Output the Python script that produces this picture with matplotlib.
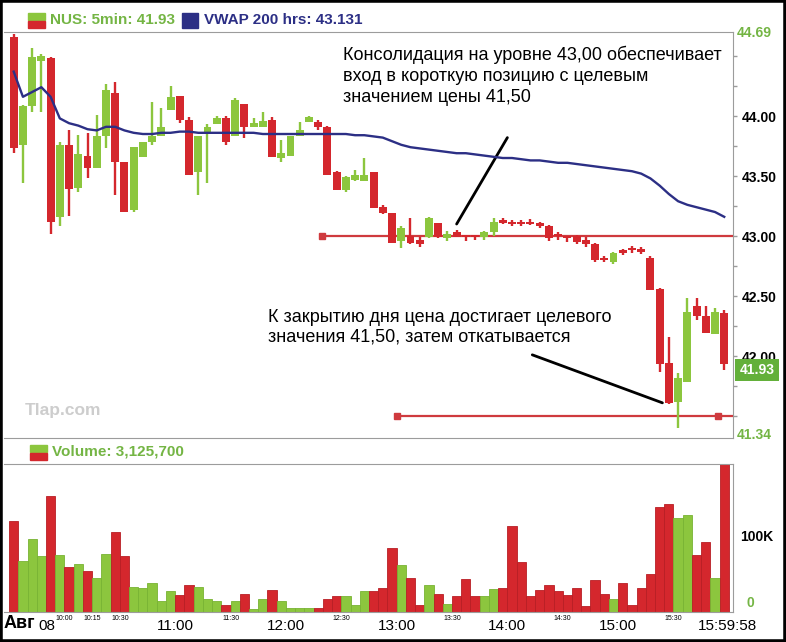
import matplotlib

matplotlib.use("Agg")

import numpy as np  # noqa: E402
from matplotlib import font_manager  # noqa: E402
from matplotlib import pyplot as plt  # noqa: E402
from matplotlib.patches import Rectangle  # noqa: E402
from matplotlib.transforms import blended_transform_factory  # noqa: E402

# 5-minute candles, 9:30 .. 15:55
OPEN = [44.66, 43.76, 44.08, 44.46, 44.48, 43.16, 43.76, 43.40, 43.67, 43.57,
        43.83, 44.19, 43.62, 43.22, 43.66, 43.78, 43.83, 44.05, 44.17, 43.97,
        43.53, 43.86, 43.93, 43.98, 43.83, 44.10, 43.91, 43.91, 43.97, 43.65,
        43.67, 43.83, 43.95, 43.95, 43.91, 43.53, 43.38, 43.47, 43.46, 43.53,
        43.24, 43.19, 42.96, 43.00, 42.97, 42.99, 43.11, 42.98, 43.03, 43.00,
        43.00, 42.99, 43.03, 43.13, 43.11, 43.11, 43.12, 43.11, 43.08, 43.02,
        42.99, 43.00, 42.97, 42.93, 42.81, 42.78, 42.87, 42.89, 42.88, 42.82,
        42.56, 41.94, 41.62, 41.78, 42.42, 42.33, 42.18, 42.36]
HIGH = [44.68, 44.09, 44.57, 44.52, 44.49, 43.78, 43.88, 43.84, 43.86, 44.01,
        44.27, 44.28, 43.62, 43.74, 43.78, 44.12, 44.07, 44.25, 44.17, 43.99,
        43.83, 43.93, 44.00, 44.00, 44.15, 44.10, 43.98, 44.03, 43.99, 43.80,
        43.83, 43.95, 44.00, 43.97, 43.92, 43.54, 43.50, 43.55, 43.65, 43.53,
        43.26, 43.19, 43.08, 43.15, 42.99, 43.16, 43.11, 43.04, 43.05, 43.01,
        43.01, 43.04, 43.15, 43.15, 43.13, 43.13, 43.14, 43.12, 43.09, 43.03,
        43.00, 43.01, 42.99, 42.94, 42.83, 42.87, 42.89, 42.92, 42.91, 42.83,
        42.57, 42.16, 41.86, 42.48, 42.48, 42.42, 42.40, 42.38]
LOW = [43.69, 43.44, 44.03, 44.03, 43.02, 43.08, 43.17, 43.37, 43.48, 43.57,
       43.73, 43.34, 43.20, 43.20, 43.66, 43.76, 43.83, 44.05, 43.94, 43.51,
       43.34, 43.44, 43.93, 43.76, 43.83, 43.82, 43.91, 43.91, 43.66, 43.62,
       43.67, 43.83, 43.95, 43.88, 43.51, 43.38, 43.37, 43.46, 43.46, 43.23,
       43.18, 42.94, 42.90, 42.93, 42.91, 42.98, 42.98, 42.96, 42.99, 42.96,
       42.97, 42.97, 43.00, 43.10, 43.08, 43.08, 43.09, 43.07, 42.96, 42.97,
       42.95, 42.93, 42.91, 42.78, 42.78, 42.77, 42.84, 42.86, 42.85, 42.55,
       41.87, 41.60, 41.40, 41.78, 42.30, 42.19, 42.18, 41.88]
CLOSE = [43.73, 44.08, 44.49, 44.50, 43.12, 43.76, 43.39, 43.68, 43.57, 43.83,
         44.22, 43.62, 43.20, 43.74, 43.78, 43.83, 43.91, 44.16, 43.97, 43.51,
         43.83, 43.91, 43.98, 43.78, 44.13, 43.91, 43.94, 43.96, 43.66, 43.69,
         43.83, 43.88, 43.99, 43.91, 43.51, 43.38, 43.49, 43.51, 43.51, 43.23,
         43.19, 42.94, 43.07, 42.94, 42.93, 43.15, 42.99, 43.02, 42.99, 42.99,
         42.99, 43.03, 43.12, 43.11, 43.10, 43.10, 43.10, 43.08, 42.98, 43.00,
         42.98, 42.95, 42.93, 42.80, 42.80, 42.86, 42.86, 42.88, 42.87, 42.55,
         41.93, 41.61, 41.82, 42.37, 42.33, 42.19, 42.37, 41.93]
VOLUME_K = [123, 69, 98, 76, 157, 77, 61, 65, 55, 46,
            79, 108, 76, 34, 32, 39, 15, 29, 23, 36,
            34, 18, 15, 10, 15, 25, 4, 18, 30, 15,
            5, 5, 5, 5, 17, 22, 21, 10, 28, 29,
            33, 87, 63, 46, 10, 36, 25, 11, 22, 44,
            22, 22, 31, 33, 116, 67, 21, 30, 37, 28,
            23, 32, 8, 43, 25, 18, 39, 10, 33, 51,
            142, 146, 127, 131, 77, 94, 46, 210]
VWAP = [44.37, 44.16, 44.20, 44.24, 44.16, 43.98, 43.94, 43.92, 43.89, 43.88,
        43.91, 43.91, 43.88, 43.86, 43.85, 43.85, 43.86, 43.86, 43.87, 43.87,
        43.86, 43.86, 43.86, 43.86, 43.86, 43.86, 43.86, 43.85, 43.85, 43.85,
        43.85, 43.85, 43.85, 43.85, 43.85, 43.85, 43.85, 43.84, 43.84, 43.83,
        43.82, 43.79, 43.76, 43.74, 43.73, 43.72, 43.71, 43.70, 43.69, 43.69,
        43.68, 43.67, 43.66, 43.65, 43.65, 43.64, 43.63, 43.63, 43.62, 43.61,
        43.61, 43.60, 43.59, 43.58, 43.57, 43.56, 43.55, 43.54, 43.52, 43.48,
        43.42, 43.35, 43.29, 43.26, 43.24, 43.22, 43.20, 43.16]

PRICE_TICKS = [42.00, 42.50, 43.00, 43.50, 44.00]
SESSION_HIGH = 44.69
SESSION_LOW = 41.34
LAST_PRICE = 41.93
LEVELS = [43.00, 41.50]
LEVEL_START = [33.4, 41.5]          # candle index where each level line begins
LEVEL_END_MARK = [None, 76.3]
BIG_TIMES = ["11:00", "12:00", "13:00", "14:00", "15:00"]
SMALL_TIMES = ["10:00", "10:15", "10:30", "11:30", "12:30", "13:30", "14:30", "15:30"]

NOTE_TOP = "Консолидация на уровне 43,00 обеспечивает\nвход в короткую позицию с целевым\nзначением цены 41,50"
NOTE_BOTTOM = "К закрытию дня цена достигает целевого\nзначения 41,50, затем откатывается"

RED = "#d4272d"
RED_EDGE = "#b81f25"
GREEN = "#8cc63e"
GREEN_EDGE = "#78b333"
NAVY = "#2c2f85"
LEVEL_RED = "#cf3a3e"
SPINE = "#9c9c9c"
LABEL_GREEN = "#74b544"

W, H = 786, 642

_names = {f.name for f in font_manager.fontManager.ttflist}
NARROW = "Liberation Sans Narrow" in _names
COND = "Liberation Sans Narrow" if NARROW else "Liberation Sans"
plt.rcParams["font.family"] = ["Liberation Sans", "DejaVu Sans"]


def size(narrow_pt, regular_pt):
    return narrow_pt if NARROW else regular_pt


def fx(px):
    return px / W


def fy(py):
    return 1 - py / H


def slot(label):
    hh, mm = label.split(":")[:2]
    return (int(hh) * 60 + int(mm) - 570) / 5 - 0.5


n = len(OPEN)
idx = np.arange(n)
o = np.array(OPEN)
c = np.array(CLOSE)
up = c >= o
face = np.where(up, GREEN, RED)
edge = np.where(up, GREEN_EDGE, RED_EDGE)

fig = plt.figure(figsize=(W / 100, H / 100), dpi=100)
ax = fig.add_axes([fx(4), fy(438), (733 - 4) / W, (438 - 32) / H])
vax = fig.add_axes([fx(4), fy(612), (733 - 4) / W, (612 - 464) / H])

# price panel
ax.vlines(idx, LOW, HIGH, colors=face, linewidth=1.7, zorder=3)
ax.bar(idx, np.maximum(np.abs(c - o), 0.02), 0.86, bottom=np.minimum(o, c),
       color=face, linewidth=0, zorder=3)
ax.plot(idx, VWAP, color=NAVY, linewidth=1.7, zorder=4)
for level, start, mark in zip(LEVELS, LEVEL_START, LEVEL_END_MARK):
    ax.plot([start, 78], [level, level], color=LEVEL_RED, linewidth=1.6, zorder=2)
    marks = [start] if mark is None else [start, mark]
    ax.plot(marks, [level] * len(marks), linestyle="none", marker="s", markersize=5,
            color=LEVEL_RED, zorder=2)

ax.set_xlim(-1.05, 77.95)
ax.set_ylim(41.317, 44.70)
ax.yaxis.tick_right()
ax.set_yticks(PRICE_TICKS)
ax.set_yticklabels([f"{t:.2f}" for t in PRICE_TICKS], fontfamily=COND,
                   fontweight="bold", fontsize=size(12, 10))
ax.set_yticks(np.arange(41.50, 44.60, 0.25), minor=True)
ax.tick_params(axis="y", which="both", direction="out", length=3, width=1,
               color=SPINE, pad=3)
ax.set_xticks([])
for side in ("top", "right", "bottom"):
    ax.spines[side].set_color(SPINE)
ax.spines["left"].set_visible(False)

edge_tf = blended_transform_factory(ax.transAxes, ax.transData)
for value in (SESSION_HIGH, SESSION_LOW):
    ax.text(1.005, value, f"{value:.2f}", transform=edge_tf, color=LABEL_GREEN,
            fontfamily=COND, fontweight="bold", fontsize=size(12, 10),
            ha="left", va="center")

ax.annotate("", xy=(48.0, 43.10), xytext=(53.5, 43.82),
            arrowprops=dict(arrowstyle="-", color="black", lw=2, shrinkA=0, shrinkB=0))
ax.annotate("", xy=(70.3, 41.61), xytext=(56.2, 42.01),
            arrowprops=dict(arrowstyle="-", color="black", lw=2, shrinkA=0, shrinkB=0))
ax.text(35.7, 44.59, NOTE_TOP, ha="left", va="top", fontfamily=COND,
        fontsize=size(15, 13), linespacing=1.32, zorder=6)
ax.text(27.6, 42.39, NOTE_BOTTOM, ha="left", va="top", fontfamily=COND,
        fontsize=size(15, 13), linespacing=1.2, zorder=6)
ax.text(1.2, 41.55, "Tlap.com", color="#cdcdcd", fontweight="bold", fontsize=12.5,
        ha="left", va="center")

# volume panel
vax.bar(idx, VOLUME_K, 1.0, color=face, edgecolor=edge, linewidth=0.6)
vax.set_xlim(-1.05, 77.95)
vax.set_ylim(0, 200)
vax.set_xticks([])
vax.set_yticks([])
for side in ("top", "right", "bottom"):
    vax.spines[side].set_color(SPINE)
vax.spines["left"].set_visible(False)
vol_tf = blended_transform_factory(vax.transAxes, vax.transData)
vax.text(1.01, 102, "100K", transform=vol_tf, fontfamily=COND, fontweight="bold",
         fontsize=size(12, 10), ha="left", va="center")
vax.text(1.018, 3, "0", transform=vol_tf, fontfamily=COND, fontweight="bold",
         color=LABEL_GREEN, fontsize=size(12, 10), ha="left", va="bottom")

# time labels
time_tf = blended_transform_factory(vax.transData, fig.transFigure)
for label in BIG_TIMES + ["15:59:58"]:
    vax.text(slot(label), fy(626), label, transform=time_tf, fontfamily=COND,
             fontsize=size(13, 11), ha="center", va="center")
for label in SMALL_TIMES:
    vax.text(slot(label), fy(619), label, transform=time_tf, fontfamily=COND,
             fontsize=size(6, 5), ha="center", va="center")
fig.text(fx(4), fy(624), "Авг", fontsize=13, fontweight="bold", ha="left", va="center")
fig.text(fx(38), fy(626), "08", fontfamily=COND, fontsize=size(13, 11),
         ha="left", va="center")

# headers
fig.patches.append(Rectangle((fx(28), fy(20)), 17 / W, 7 / H, transform=fig.transFigure,
                             color=GREEN))
fig.patches.append(Rectangle((fx(28), fy(28)), 17 / W, 7 / H, transform=fig.transFigure,
                             color=RED))
fig.text(fx(50), fy(20), f"NUS: 5min: {LAST_PRICE:.2f}", color=LABEL_GREEN,
         fontweight="bold", fontsize=11, ha="left", va="center")
fig.patches.append(Rectangle((fx(182), fy(28)), 16 / W, 15 / H, transform=fig.transFigure,
                             color=NAVY))
fig.text(fx(204), fy(20), "VWAP 200 hrs: 43.131", color=NAVY,
         fontweight="bold", fontsize=11, ha="left", va="center")
fig.patches.append(Rectangle((fx(30), fy(452)), 17 / W, 7 / H, transform=fig.transFigure,
                             color=GREEN))
fig.patches.append(Rectangle((fx(30), fy(460)), 17 / W, 7 / H, transform=fig.transFigure,
                             color=RED))
fig.text(fx(52), fy(452), "Volume: 3,125,700", color=LABEL_GREEN,
         fontweight="bold", fontsize=11, ha="left", va="center")

fig.text(fx(757), fy(370), f"{LAST_PRICE:.2f}", color="white", fontfamily=COND,
         fontweight="bold", fontsize=size(12, 10), ha="center", va="center",
         bbox=dict(boxstyle="square,pad=0.3", facecolor="#63b03a", edgecolor="none"))

fig.patches.append(Rectangle((0, 0), 1, 1, transform=fig.transFigure, fill=False,
                             edgecolor="black", linewidth=4))

fig.savefig("out.png", dpi=100)
